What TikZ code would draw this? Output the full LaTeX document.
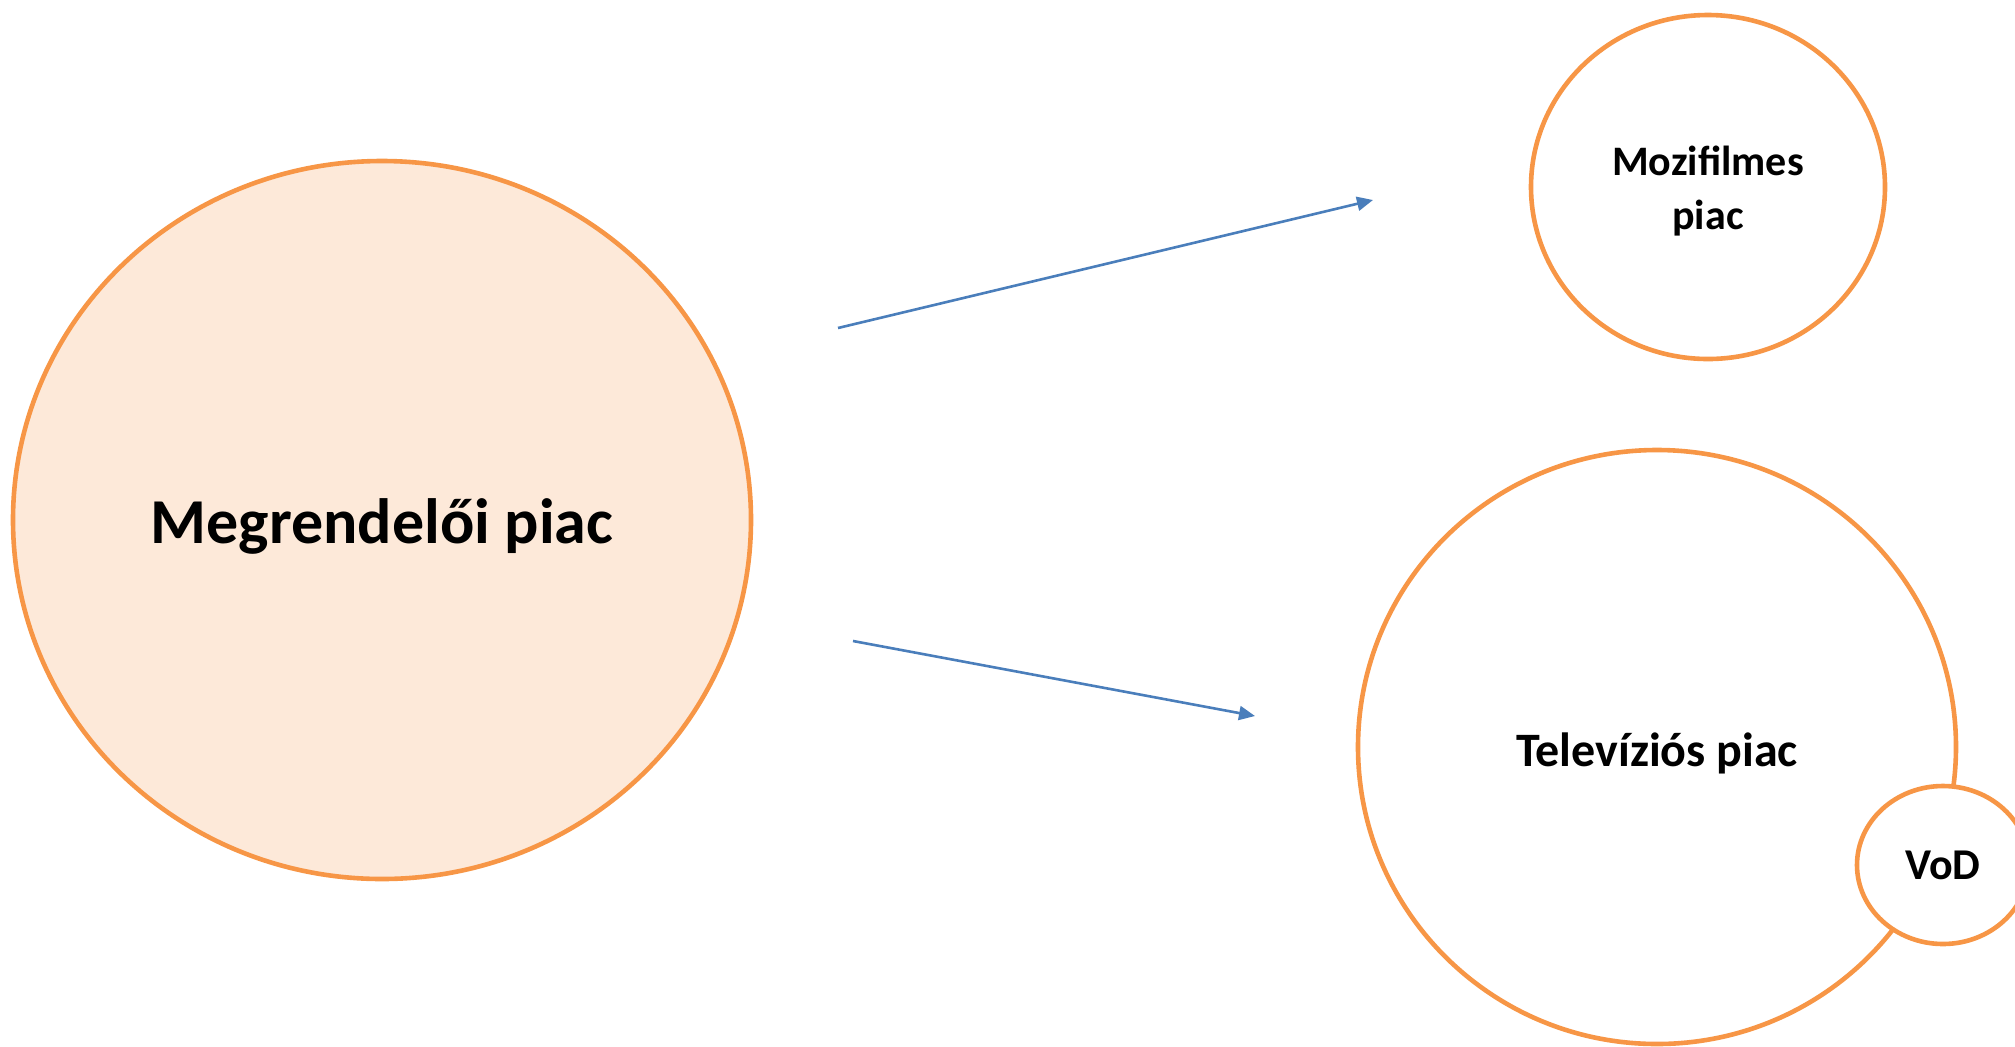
\documentclass[tikz,border=0pt]{standalone}
\usepackage{fontspec}
\setmainfont{Carlito}
\usetikzlibrary{shapes.geometric,arrows.meta}
\definecolor{orng}{HTML}{F79646}
\definecolor{peach}{HTML}{FDE9D9}
\definecolor{arrblue}{HTML}{4A7EBB}
\begin{document}
\begin{tikzpicture}[x=0.5pt,y=-0.5pt,
  market/.style={ellipse, draw=orng, line width=2.3pt, fill=white, inner sep=0pt, font=\bfseries\fontsize{21}{25}\selectfont, align=center, text=black},
  link/.style={draw=arrblue, line width=1.3pt, -{Triangle[length=8pt,width=7pt]}}]
\useasboundingbox (0,0) rectangle (2015,1046);
\node[market, fill=peach, minimum width=369pt, minimum height=359pt] (meg) at (382,520) {};
\node[font=\bfseries\fontsize{32}{36}\selectfont] (megt) at (382,526) {Megrendelői piac};
\node[market, minimum width=177pt, minimum height=172pt] (mozi) at (1708,187) {};
\node[font=\bfseries\fontsize{21}{25}\selectfont, align=center] (mozit) at (1708,191) {Mozifilmes\\[2pt]piac};
\node[market, minimum width=299pt, minimum height=297pt] (tv) at (1657,747) {};
\node[font=\bfseries\fontsize{24}{28}\selectfont] (tvt) at (1657,753) {Televíziós piac};
\node[market, minimum width=86pt, minimum height=79pt, font=\bfseries\fontsize{22}{26}\selectfont] (vod) at (1943,865) {VoD};
\coordinate (a1s) at (838,328);
\coordinate (a1e) at (1373,200);
\coordinate (a2s) at (853,641);
\coordinate (a2e) at (1255,716);
\draw[link] (a1s) -- (a1e);
\draw[link] (a2s) -- (a2e);
\end{tikzpicture}
\end{document}
